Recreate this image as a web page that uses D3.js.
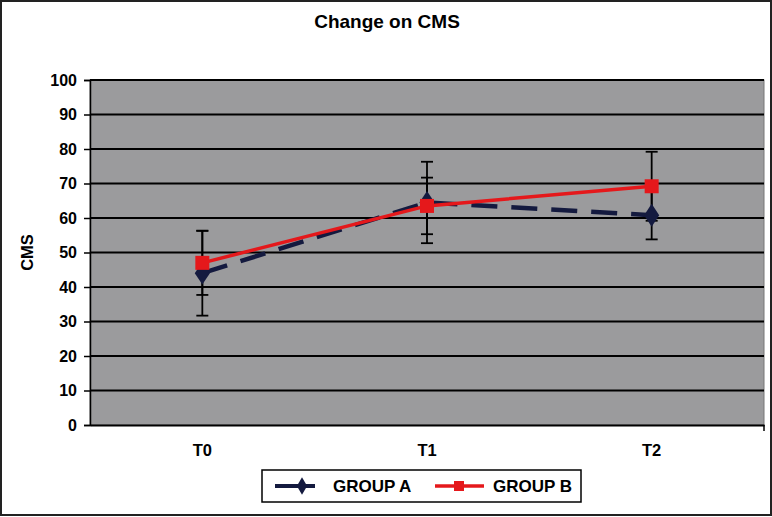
<!DOCTYPE html>
<html>
<head>
<meta charset="utf-8">
<script src="https://cdn.jsdelivr.net/npm/d3@7"></script>
<style>
  body { margin: 0; background: #fff; }
  svg { display: block; font-family: "Liberation Sans", Arial, sans-serif; }
</style>
</head>
<body>
<div id="chart"></div>
<script>
// data
const times = ['T0', 'T1', 'T2']
const groupA = [44, 64.5, 60.8]
const groupAErr = [12.3, 11.8, 7]
const groupB = [47, 63.5, 69.2]
const groupBErr = [9.3, 8.2, 10]
const yTicks = [0, 10, 20, 30, 40, 50, 60, 70, 80, 90, 100]

const width = 772, height = 517
const plot = {left: 90, right: 764, top: 80, bottom: 425}
const font = '"Liberation Sans", Arial, sans-serif'

const svg = d3.select('#chart').append('svg')
  .attr('width', width)
  .attr('height', height)

// outer frame
svg.append('rect')
  .attr('x', 1).attr('y', 1)
  .attr('width', width - 2).attr('height', height - 3)
  .attr('fill', '#fff').attr('stroke', '#222').attr('stroke-width', 2)

const x = d3.scaleBand().domain(times).range([plot.left, plot.right])
const y = d3.scaleLinear().domain([0, 100]).range([plot.bottom, plot.top])
const cx = d => x(d) + x.bandwidth() / 2

// plot background
svg.append('rect')
  .attr('x', plot.left).attr('y', plot.top)
  .attr('width', plot.right - plot.left).attr('height', plot.bottom - plot.top)
  .attr('fill', '#9b9b9d').attr('stroke', '#777').attr('stroke-width', 1)

// gridlines
svg.append('g').selectAll('line')
  .data(yTicks.filter(t => t > 0))
  .enter().append('line')
  .attr('x1', plot.left).attr('x2', plot.right)
  .attr('y1', d => y(d)).attr('y2', d => y(d))
  .attr('stroke', '#000').attr('stroke-width', 1.8)

// y axis
const yAxis = svg.append('g')
  .attr('transform', `translate(${plot.left},0)`)
  .call(d3.axisLeft(y).tickValues(yTicks).tickSize(6).tickPadding(8))
yAxis.select('.domain').attr('stroke', '#000').attr('stroke-width', 1.5)
yAxis.selectAll('.tick line').attr('stroke', '#000').attr('stroke-width', 1.5)
yAxis.selectAll('text').attr('font-size', 16).attr('font-weight', 'bold').attr('fill', '#000')
  .attr('font-family', font).attr('x', -13)

// x axis
const xAxis = svg.append('g')
  .attr('transform', `translate(0,${plot.bottom})`)
  .call(d3.axisBottom(x).tickSize(0).tickPadding(19))
xAxis.select('.domain').attr('stroke', '#000').attr('stroke-width', 2)
xAxis.selectAll('text').attr('font-size', 16.5).attr('font-weight', 'bold').attr('fill', '#000')
  .attr('font-family', font)
// small tick at right end
svg.append('line')
  .attr('x1', plot.right).attr('x2', plot.right)
  .attr('y1', plot.bottom).attr('y2', plot.bottom + 6)
  .attr('stroke', '#000').attr('stroke-width', 1.5)

// titles
svg.append('text')
  .attr('x', 387).attr('y', 28)
  .attr('text-anchor', 'middle')
  .attr('font-size', 19).attr('font-weight', 'bold')
  .text('Change on CMS')

svg.append('text')
  .attr('transform', `translate(33,${(plot.top + plot.bottom) / 2}) rotate(-90)`)
  .attr('text-anchor', 'middle')
  .attr('font-size', 16.5).attr('font-weight', 'bold')
  .text('CMS')

const colorA = '#141a3f', colorB = '#e5181b'

// error bars
let errBars = (vals, errs) => {
  const g = svg.append('g').attr('stroke', '#000').attr('stroke-width', 1.8)
  times.forEach((t, i) => {
    const lo = y(vals[i] - errs[i]), hi = y(vals[i] + errs[i]), px = cx(t)
    g.append('line').attr('x1', px).attr('x2', px).attr('y1', lo).attr('y2', hi)
    g.append('line').attr('x1', px - 6).attr('x2', px + 6).attr('y1', lo).attr('y2', lo)
    g.append('line').attr('x1', px - 6).attr('x2', px + 6).attr('y1', hi).attr('y2', hi)
  })
}
errBars(groupA, groupAErr)
errBars(groupB, groupBErr)

const line = d3.line().x((d, i) => cx(times[i])).y(d => y(d))

// group A
svg.append('path')
  .datum(groupA)
  .attr('d', line)
  .attr('fill', 'none').attr('stroke', colorA).attr('stroke-width', 4.5)
  .attr('stroke-dasharray', '26,14')
svg.append('g').selectAll('path')
  .data(groupA)
  .enter().append('path')
  .attr('d', d3.symbol(d3.symbolDiamond, 150))
  .attr('transform', (d, i) => `translate(${cx(times[i])},${y(d)}) scale(1.15,1)`)
  .attr('fill', colorA)

// group B
svg.append('path')
  .datum(groupB)
  .attr('d', line)
  .attr('fill', 'none').attr('stroke', colorB).attr('stroke-width', 3.5)
svg.append('g').selectAll('rect')
  .data(groupB)
  .enter().append('rect')
  .attr('x', (d, i) => cx(times[i]) - 7).attr('y', d => y(d) - 7)
  .attr('width', 14).attr('height', 14)
  .attr('fill', colorB)

// legend
const legend = svg.append('g')
legend.append('rect')
  .attr('x', 262).attr('y', 470).attr('width', 319).attr('height', 32)
  .attr('fill', '#fff').attr('stroke', '#000').attr('stroke-width', 1.5)
legend.append('line')
  .attr('x1', 275).attr('x2', 329).attr('y1', 486).attr('y2', 486)
  .attr('stroke', colorA).attr('stroke-width', 4).attr('stroke-dasharray', '26,4,10')
legend.append('path')
  .attr('d', d3.symbol(d3.symbolDiamond, 90))
  .attr('transform', 'translate(302,486)')
  .attr('fill', colorA)
legend.append('text')
  .attr('x', 333).attr('y', 492)
  .attr('font-size', 17).attr('font-weight', 'bold')
  .text('GROUP A')
legend.append('line')
  .attr('x1', 435).attr('x2', 484).attr('y1', 486).attr('y2', 486)
  .attr('stroke', colorB).attr('stroke-width', 3.5)
legend.append('rect')
  .attr('x', 454).attr('y', 481).attr('width', 10).attr('height', 10)
  .attr('fill', colorB)
legend.append('text')
  .attr('x', 493).attr('y', 492)
  .attr('font-size', 17).attr('font-weight', 'bold')
  .text('GROUP B')
</script>
</body>
</html>
